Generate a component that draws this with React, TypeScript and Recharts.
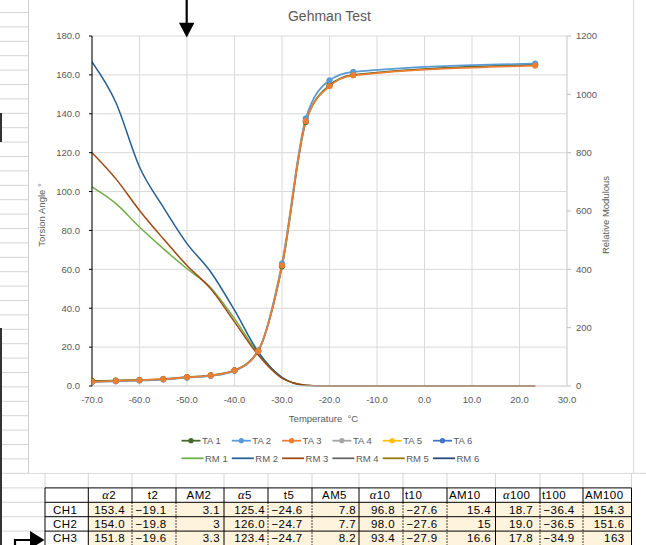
import React from 'react';
import { LineChart, Line, XAxis, YAxis, CartesianGrid } from 'recharts';

// ---------- data ----------
const temps = [-70, -65, -60, -55, -50, -45, -40, -35, -30, -25, -20, -15, 23.3];
const ta1 = [2.6, 2.8, 3.1, 3.6, 4.6, 5.5, 8.1, 18.2, 61.5, 135.8, 154.6, 160.0, 165.3];
const ta2 = [2.0, 2.4, 2.8, 3.3, 4.3, 5.2, 7.8, 18.0, 63.0, 137.6, 157.2, 161.5, 165.8];
const ta3 = [2.2, 2.6, 3.0, 3.5, 4.5, 5.4, 8.0, 18.0, 62.0, 136.2, 154.2, 159.8, 164.8];
const rm1 = [683, 626, 545, 471, 402, 337, 231, 112, 28, 3, 0, 0, 0];
const rm2 = [1111, 973, 751, 613, 488, 391, 260, 117, 30, 2, 0, 0, 0];
const rm3 = [800, 711, 602, 505, 413, 333, 220, 106, 27, 3, 0, 0, 0];

const xTicks = [-70, -60, -50, -40, -30, -20, -10, 0, 10, 20, 30];
const leftTicks = [0, 20, 40, 60, 80, 100, 120, 140, 160, 180];
const rightTicks = [0, 200, 400, 600, 800, 1000, 1200];

const legendRow1 = ['TA 1', 'TA 2', 'TA 3', 'TA 4', 'TA 5', 'TA 6'];
const legendRow2 = ['RM 1', 'RM 2', 'RM 3', 'RM 4', 'RM 5', 'RM 6'];
const taColors = ['#43682B', '#5B9BD5', '#ED7D31', '#A5A5A5', '#FFC000', '#4472C4'];
const rmColors = ['#70AD47', '#255E91', '#9E480E', '#636363', '#997300', '#264478'];

const tableHeaders = ['α2', 't2', 'AM2', 'α5', 't5', 'AM5', 'α10', 't10', 'AM10', 'α100', 't100', 'AM100'];
const rowLabels = ['CH1', 'CH2', 'CH3'];
const ch1 = ['153.4', '−19.1', '3.1', '125.4', '−24.6', '7.8', '96.8', '−27.6', '15.4', '18.7', '−36.4', '154.3'];
const ch2 = ['154.0', '−19.8', '3', '126.0', '−24.7', '7.7', '98.0', '−27.6', '15', '19.0', '−36.5', '151.6'];
const ch3 = ['151.8', '−19.6', '3.3', '123.4', '−24.7', '8.2', '93.4', '−27.9', '16.6', '17.8', '−34.9', '163'];

const data = temps.map((t, i) => ({
  t,
  ta1: ta1[i],
  ta2: ta2[i],
  ta3: ta3[i],
  rm1: rm1[i],
  rm2: rm2[i],
  rm3: rm3[i],
}));

// ---------- layout constants ----------
const FONT = "'Liberation Sans', Arial, sans-serif";
const GRAY = '#595959';
const cols = [45, 88.3, 132, 176, 224, 268, 312, 359, 403, 447, 495.5, 540, 583, 631.5];
const rowsY = [473.3, 487.9, 502.3, 516.7, 531.1, 545.5];
const rightPad = [0, 7, 0, 4, 3, 0, 3, 8, 0, 4.5, 7, 0, 7];

function Sheet() {
  const lines: React.ReactNode[] = [];
  // left column row lines
  for (let y = 12.5; y < 473; y += 14.4) {
    lines.push(<line key={'l' + y} x1={0} x2={28} y1={y} y2={y} stroke="#d4d4d4" strokeWidth={1} />);
  }
  // rows below chart, left cells
  rowsY.forEach((y, i) => {
    lines.push(<line key={'r' + i} x1={0} x2={i === 0 ? 646 : 45} y1={y} y2={y} stroke="#d4d4d4" strokeWidth={1} />);
  });
  // light verticals in the row above table
  cols.forEach((x, i) => {
    lines.push(<line key={'v' + i} x1={x} x2={x} y1={473.3} y2={rowsY[1]} stroke="#d4d4d4" strokeWidth={1} />);
  });
  const cells: React.ReactNode[] = [];
  // yellow data cells
  for (let r = 0; r < 3; r++) {
    cells.push(
      <rect key={'bg' + r} x={cols[1]} y={rowsY[r + 2]} width={cols[13] - cols[1]} height={rowsY[r + 3] - rowsY[r + 2]} fill="#fef3dc" />
    );
  }
  // table borders
  const tb: React.ReactNode[] = [];
  const top = rowsY[1];
  const bottom = 546;
  for (let r = 1; r <= 4; r++) {
    tb.push(<line key={'h' + r} x1={cols[0]} x2={cols[13]} y1={rowsY[r]} y2={rowsY[r]} stroke="#000" strokeWidth={1} />);
  }
  cols.forEach((x, j) => {
    const solid = j === 0 || j === 1 || (j - 1) % 3 === 0;
    if (solid) {
      tb.push(<line key={'c' + j} x1={x} x2={x} y1={top} y2={bottom} stroke="#000" strokeWidth={1} />);
    } else {
      tb.push(<line key={'c' + j} x1={x} x2={x} y1={top} y2={rowsY[2]} stroke="#000" strokeWidth={1} />);
      tb.push(<line key={'d' + j} x1={x} x2={x} y1={rowsY[2]} y2={bottom} stroke="#000" strokeWidth={1} strokeDasharray="1.5 1.5" />);
    }
  });
  // texts
  const texts: React.ReactNode[] = [];
  const tStyle = { fontFamily: FONT, fontSize: 11.5, letterSpacing: 0.4, fill: '#000' } as React.CSSProperties;
  tableHeaders.forEach((h, i) => {
    const c = i + 1;
    const left = cols[c];
    const right = cols[c + 1];
    const leftAligned = h === 't10' || h === 'AM10' || h === 't100' || h === 'AM100';
    const isAlpha = h.startsWith('α');
    texts.push(
      <text key={'hd' + i} x={leftAligned ? left + 2 : (left + right) / 2 - 1} y={499.3} textAnchor={leftAligned ? 'start' : 'middle'} style={tStyle}>
        {isAlpha ? (
          <>
            <tspan style={{ fontStyle: 'italic', fontFamily: "'Liberation Serif', serif", fontSize: 12.5 }}>α</tspan>
            <tspan>{h.slice(1)}</tspan>
          </>
        ) : (
          h
        )}
      </text>
    );
  });
  const rows = [ch1, ch2, ch3];
  rows.forEach((vals, r) => {
    const by = rowsY[r + 2] + 11.3;
    texts.push(
      <text key={'lab' + r} x={53} y={by} style={tStyle}>
        {rowLabels[r]}
      </text>
    );
    vals.forEach((v, i) => {
      const c = i + 1;
      const kind = i % 3; // 0 alpha, 1 t, 2 AM
      if (kind === 1) {
        texts.push(
          <text key={'v' + r + '_' + i} x={cols[c] + 3.5} y={by} style={tStyle}>
            {v}
          </text>
        );
      } else {
        texts.push(
          <text key={'v' + r + '_' + i} x={cols[c + 1] - rightPad[c]} y={by} textAnchor="end" style={tStyle}>
            {v}
          </text>
        );
      }
    });
  });
  return (
    <svg width={646} height={545} style={{ position: 'absolute', left: 0, top: 0 }}>
      {lines}
      {cells}
      {tb}
      {texts}
      {/* dark bars on the far left */}
      <rect x={0} y={113} width={2} height={29} fill="#333" />
      <rect x={0} y={328} width={2} height={217} fill="#333" />
    </svg>
  );
}

function Overlay() {
  const tx = { fontFamily: FONT, fill: GRAY } as React.CSSProperties;
  const items: React.ReactNode[] = [];
  legendRow1.forEach((name, i) => {
    const x = 181.5 + i * 50.3;
    const y = 440.7;
    items.push(
      <g key={'lg1' + i}>
        <line x1={x} x2={x + 19} y1={y} y2={y} stroke={taColors[i]} strokeWidth={1.75} />
        <circle cx={x + 9.5} cy={y} r={2.6} fill={taColors[i]} />
        <text x={x + 20.5} y={y + 3.4} style={{ ...tx, fontSize: 9.5 }}>
          {name}
        </text>
      </g>
    );
  });
  legendRow2.forEach((name, i) => {
    const x = 181.5 + i * 50.3;
    const y = 458.3;
    items.push(
      <g key={'lg2' + i}>
        <line x1={x} x2={x + 22} y1={y} y2={y} stroke={rmColors[i]} strokeWidth={1.75} />
        <text x={x + 23.5} y={y + 3.4} style={{ ...tx, fontSize: 9.5 }}>
          {name}
        </text>
      </g>
    );
  });
  return (
    <svg width={646} height={545} style={{ position: 'absolute', left: 0, top: 0, pointerEvents: 'none' }}>
      <text x={329.5} y={21} textAnchor="middle" style={{ ...tx, fontSize: 14 }}>
        Gehman Test
      </text>
      <text x={323.5} y={422} textAnchor="middle" style={{ ...tx, fontSize: 9.5 }}>
        {'Temperature\u00a0\u00a0°C'}
      </text>
      <text transform="translate(45,215) rotate(-90)" textAnchor="middle" style={{ ...tx, fontSize: 9.5 }}>
        Torsion Angle °
      </text>
      <text transform="translate(609,215) rotate(-90)" textAnchor="middle" style={{ ...tx, fontSize: 9.5 }}>
        Relative Modulous
      </text>
      {items}
      {/* top arrow */}
      <line x1={186.7} x2={186.7} y1={0} y2={24} stroke="#000" strokeWidth={2.2} />
      <polygon points="179,22.7 194.4,22.7 186.7,37.5" fill="#000" />
      {/* bottom-left arrow */}
      <polyline points="15,546 15,540 31,540" fill="none" stroke="#000" strokeWidth={2.2} />
      <polygon points="30,531 30,549 44.5,540" fill="#000" />
    </svg>
  );
}

export default function App() {
  const axisTick = { fill: GRAY, fontSize: 9.5, fontFamily: FONT };
  return (
    <div style={{ position: 'absolute', left: 0, top: 0, width: 646, height: 545, background: '#fff', overflow: 'hidden' }}>
      <Sheet />
      {/* chart box */}
      <div
        style={{
          position: 'absolute',
          left: 28,
          top: 0,
          width: 606,
          height: 473,
          background: '#fff',
          borderLeft: '1px solid #d0d0d0',
          borderRight: '1px solid #d9d9d9',
          boxSizing: 'border-box',
        }}
      />
      <div style={{ position: 'absolute', left: 0, top: 0 }}>
        <LineChart width={646} height={473} data={data} margin={{ top: 36, right: 29, bottom: 57, left: 32 }}>
          <CartesianGrid yAxisId="left" stroke="#d9d9d9" strokeWidth={1} />
          <XAxis
            type="number"
            dataKey="t"
            domain={[-70, 30]}
            ticks={xTicks}
            interval={0}
            allowDataOverflow
            tickFormatter={(v: number) => v.toFixed(1)}
            height={30}
            tickLine={false}
            tickSize={0}
            tickMargin={10}
            axisLine={{ stroke: '#d9d9d9' }}
            tick={axisTick}
          />
          <YAxis
            yAxisId="left"
            domain={[0, 180]}
            ticks={leftTicks}
            interval={0}
            tickFormatter={(v: number) => v.toFixed(1)}
            width={60}
            tickSize={3}
            tickMargin={9}
            axisLine={{ stroke: '#000' }}
            tickLine={{ stroke: '#000' }}
            tick={axisTick}
          />
          <YAxis
            yAxisId="right"
            orientation="right"
            domain={[0, 1200]}
            ticks={rightTicks}
            interval={0}
            width={50}
            tickSize={4}
            tickMargin={5}
            axisLine={{ stroke: '#d9d9d9' }}
            tickLine={{ stroke: '#bfbfbf' }}
            tick={axisTick}
          />
          <Line yAxisId="left" type="monotone" dataKey="ta1" stroke={taColors[0]} strokeWidth={1.75} dot={{ r: 2.7, fill: taColors[0], stroke: taColors[0], strokeWidth: 1 }} isAnimationActive={false} />
          <Line yAxisId="left" type="monotone" dataKey="ta2" stroke={taColors[1]} strokeWidth={1.75} dot={{ r: 2.7, fill: taColors[1], stroke: taColors[1], strokeWidth: 1 }} isAnimationActive={false} />
          <Line yAxisId="left" type="monotone" dataKey="ta3" stroke={taColors[2]} strokeWidth={1.75} dot={{ r: 2.7, fill: taColors[2], stroke: taColors[2], strokeWidth: 1 }} isAnimationActive={false} />
          <Line yAxisId="right" type="monotone" dataKey="rm1" stroke={rmColors[0]} strokeWidth={1.5} dot={false} isAnimationActive={false} />
          <Line yAxisId="right" type="monotone" dataKey="rm2" stroke={rmColors[1]} strokeWidth={1.5} dot={false} isAnimationActive={false} />
          <Line yAxisId="right" type="monotone" dataKey="rm3" stroke={rmColors[2]} strokeWidth={1.5} dot={false} isAnimationActive={false} />
        </LineChart>
      </div>
      <Overlay />
    </div>
  );
}
